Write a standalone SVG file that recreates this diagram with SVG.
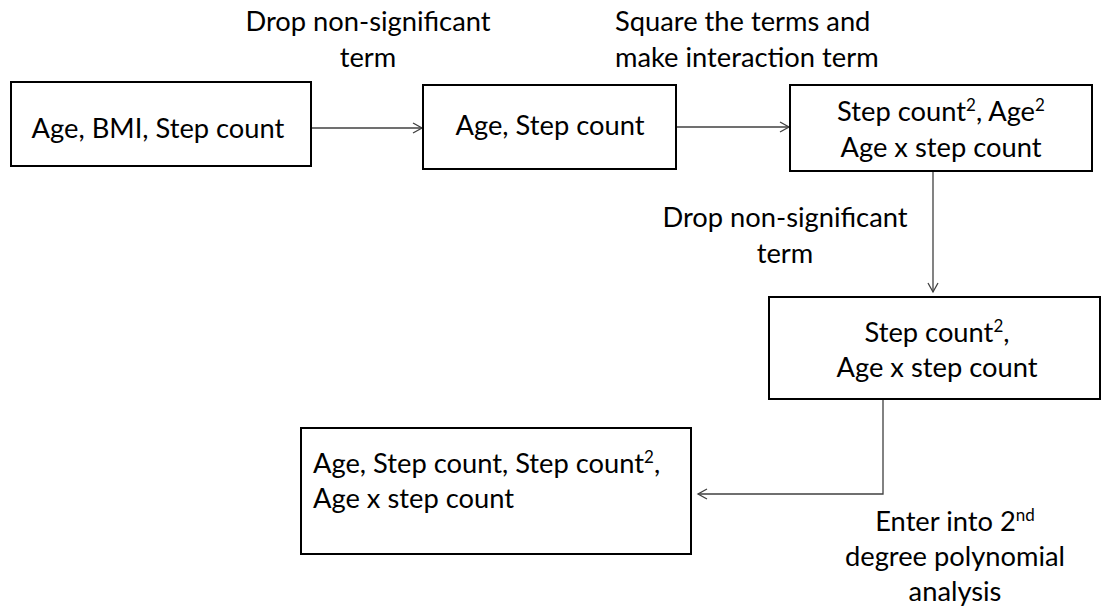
<svg xmlns="http://www.w3.org/2000/svg" width="1103" height="606" viewBox="0 0 1103 606">
<style>
.box{fill:#fff;stroke:#000;stroke-width:2}
.t{font-family:Lato,"Liberation Sans",sans-serif;font-size:27.3px;fill:#000}
.c{text-anchor:middle}
.s{font-size:17px}
.ln{fill:none;stroke:#404040;stroke-width:1.3}
</style>
<defs>
<marker id="ah" markerWidth="12" markerHeight="12" refX="10" refY="6" orient="auto" markerUnits="userSpaceOnUse">
<path d="M1,1 L10,6 L1,11" fill="none" stroke="#404040" stroke-width="1.3"/>
</marker>
</defs>
<rect width="1103" height="606" fill="#fff"/>
<g id="connectors">
<line class="ln" x1="311" y1="128" x2="422" y2="128" marker-end="url(#ah)"/>
<line class="ln" x1="676" y1="127" x2="789" y2="127" marker-end="url(#ah)"/>
<line class="ln" x1="933" y1="171" x2="933" y2="292" marker-end="url(#ah)"/>
<polyline class="ln" points="883,399 883,494 698,494" marker-end="url(#ah)"/>
</g>
<g id="label1"><text class="t c" x="368" y="31">Drop non-significant</text><text class="t c" x="368" y="67">term</text></g>
<g id="label2"><text class="t" x="615" y="31">Square the terms and</text><text class="t" x="615" y="67">make interaction term</text></g>
<g id="label3"><text class="t c" x="785" y="227">Drop non-significant</text><text class="t c" x="785" y="263">term</text></g>
<g id="label4"><text class="t c" x="955" y="531">Enter into 2<tspan class="s" dy="-10">nd</tspan></text><text class="t c" x="955" y="566">degree polynomial</text><text class="t c" x="955" y="601">analysis</text></g>
<g id="node1"><rect class="box" x="11" y="82" width="300" height="84"/><text class="t c" x="158" y="138">Age, BMI, Step count</text></g>
<g id="node2"><rect class="box" x="423" y="85" width="253" height="84"/><text class="t c" x="550" y="135">Age, Step count</text></g>
<g id="node3"><rect class="box" x="790" y="85" width="302" height="86"/><text class="t c" x="941" y="121">Step count<tspan class="s" dy="-10">2</tspan><tspan dy="10">, Age</tspan><tspan class="s" dy="-10">2</tspan></text><text class="t c" x="941" y="157">Age x step count</text></g>
<g id="node4"><rect class="box" x="769" y="297" width="331" height="102"/><text class="t c" x="937" y="342">Step count<tspan class="s" dy="-10">2</tspan><tspan dy="10">,</tspan></text><text class="t c" x="937" y="377">Age x step count</text></g>
<g id="node5"><rect class="box" x="301" y="428" width="390" height="126"/><text class="t" x="313" y="473">Age, Step count, Step count<tspan class="s" dy="-10">2</tspan><tspan dy="10">,</tspan></text><text class="t" x="313" y="508">Age x step count</text></g>
</svg>
